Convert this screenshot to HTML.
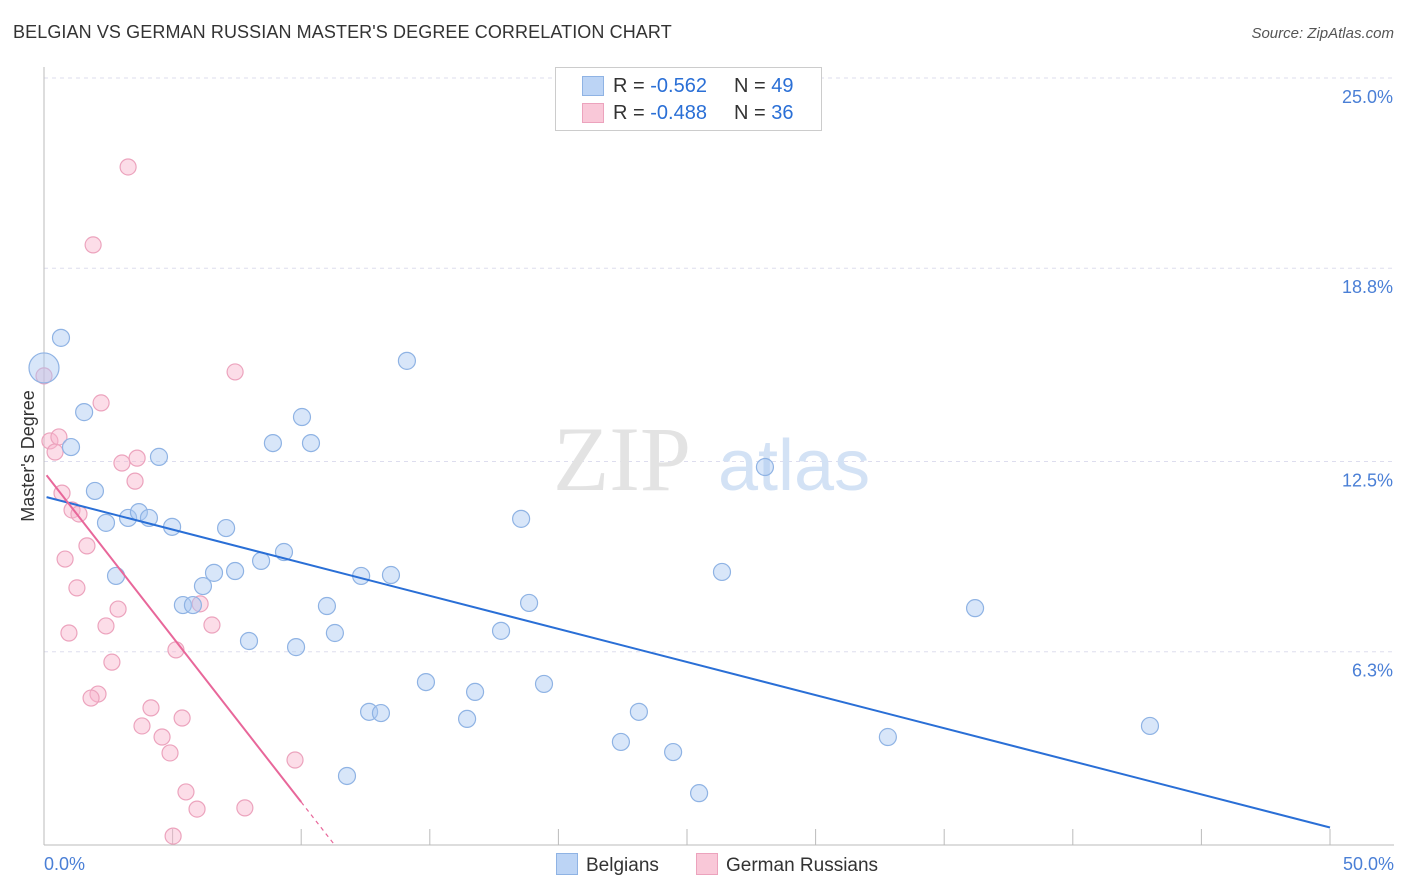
<!DOCTYPE html>
<html><head><meta charset="utf-8">
<style>
body{margin:0;background:#fff;font-family:"Liberation Sans",sans-serif;}
#wrap{position:relative;width:1406px;height:892px;overflow:hidden;}
.t{position:absolute;white-space:nowrap;}
</style></head>
<body>
<div id="wrap">
<div class="t" style="left:13px;top:22px;font-size:18px;color:#333;letter-spacing:0.1px">BELGIAN VS GERMAN RUSSIAN MASTER'S DEGREE CORRELATION CHART</div>
<div class="t" style="right:12px;top:25px;font-size:15px;color:#555;font-style:italic">Source: ZipAtlas.com</div>
<svg id="chart" width="1406" height="892" style="position:absolute;left:0;top:0"></svg>
</div>
<script>
const yTicks=[25.0,18.8,12.5,6.3];
const yTickLabels=["25.0%","18.8%","12.5%","6.3%"];
const xTickLabels=["0.0%","50.0%"];
const belgX=[0.0,0.66,1.56,1.05,1.98,2.41,3.27,3.69,4.08,4.47,4.98,2.80,5.40,5.79,6.18,6.61,7.08,7.43,7.97,8.44,8.90,9.33,9.80,10.03,10.38,11.00,11.31,11.78,12.33,12.64,13.10,13.49,14.11,14.85,16.45,16.76,17.77,18.55,18.86,19.44,22.43,23.13,24.46,25.47,26.36,28.03,32.81,36.20,43.00];
const belgY=[15.55,16.53,14.11,12.97,11.54,10.50,10.66,10.85,10.66,12.65,10.37,8.77,7.82,7.82,8.44,8.87,10.33,8.93,6.65,9.26,13.10,9.55,6.45,13.95,13.10,7.79,6.91,2.25,8.77,4.34,4.30,8.80,15.78,5.31,4.11,4.99,6.98,10.63,7.89,5.25,3.36,4.34,3.03,1.69,8.90,12.32,3.52,7.72,3.88];
const gerX=[0.0,0.23,0.43,0.58,0.70,1.09,1.36,0.82,1.28,1.67,0.97,2.41,2.88,2.64,2.10,1.83,2.22,1.91,3.27,3.03,3.62,3.54,3.81,4.16,4.59,4.90,5.13,5.37,6.07,6.53,5.52,5.95,5.02,7.43,7.81,9.76];
const gerY=[15.29,13.17,12.81,13.30,11.47,10.92,10.79,9.32,8.38,9.75,6.91,7.14,7.69,5.96,4.92,4.79,14.41,19.56,22.10,12.45,12.61,11.86,3.88,4.47,3.52,3.00,6.36,4.14,7.86,7.17,1.73,1.17,0.29,15.42,1.21,2.77];
const belgLine=[11.36,-0.2158];
const gerLine=[12.16,-1.076];
const x=v=>44+v*25.72;
const y=v=>845-v*30.68;
const svg=document.getElementById('chart');
const NS='http://www.w3.org/2000/svg';
function mk(tag,attrs,parent){const e=document.createElementNS(NS,tag);for(const k in attrs)e.setAttribute(k,attrs[k]);(parent||svg).appendChild(e);return e;}
yTicks.forEach((v,i)=>{
 const g=mk('line',{x1:44,x2:1394,y1:y(v),y2:y(v),stroke:'#dde',"stroke-dasharray":'4,4'});
 
 
 const t=mk('text',{x:1393,y:y(v)+25,"text-anchor":'end',"font-size":18,fill:'#4a7fd6',"font-family":'Liberation Sans'});
 t.textContent=yTickLabels[i];
 
 
});
const ax=mk('line',{x1:44,x2:1394,y1:845,y2:845,stroke:'#bbb'});


const ay=mk('line',{x1:44,x2:44,y1:67,y2:845,stroke:'#bbb'});


for(let i=1;i<=10;i++){
 const tk=mk('line',{x1:x(i*5),x2:x(i*5),y1:829,y2:845,stroke:'#bbb'});
 
 
}
[[0,'start',44],[50,'end',1394]].forEach((a,i)=>{
 const t=mk('text',{x:a[2],y:870,"text-anchor":a[1],"font-size":18,fill:'#4a7fd6',"font-family":'Liberation Sans'});
 t.textContent=xTickLabels[i];
 
 
});
const wm=mk('text',{x:553,y:490,"font-size":92,fill:'#e3e3e3',"font-family":'Liberation Serif'});wm.textContent='ZIP';


const wm2=mk('text',{x:718,y:490,"font-size":72,fill:'#d3e2f5',"font-family":'Liberation Sans'});wm2.textContent='atlas';


const yt=mk('text',{x:34,y:456,"font-size":18,fill:'#333',"text-anchor":'middle',transform:'rotate(-90 34 456)',"font-family":'Liberation Sans'});yt.textContent="Master's Degree";


gerX.forEach((v,i)=>{
 const c=mk('circle',{cx:x(v),cy:y(gerY[i]),r:8,fill:'rgba(248,180,204,0.45)',stroke:'#eca3bd',"stroke-width":1.2});
 
 
});
belgX.forEach((v,i)=>{
 const c=mk('circle',{cx:x(v),cy:y(belgY[i]),r:i===0?15:8.5,fill:'rgba(168,200,242,0.45)',stroke:'#8fb3e4',"stroke-width":1.2});
 
 
});
const bl=mk('line',{x1:x(0.1),y1:y(belgLine[0]+belgLine[1]*0.1),x2:x(50),y2:y(belgLine[0]+belgLine[1]*50),stroke:'#2a6fd6',"stroke-width":2});


const gl=mk('line',{x1:x(0.1),y1:y(gerLine[0]+gerLine[1]*0.1),x2:x(10),y2:y(gerLine[0]+gerLine[1]*10),stroke:'#e8679a',"stroke-width":2});


const x0=-gerLine[0]/gerLine[1];
const gd=mk('line',{x1:x(10),y1:y(gerLine[0]+gerLine[1]*10),x2:x(x0),y2:y(0),stroke:'#e8679a',"stroke-width":1.2,"stroke-dasharray":'4,4'});


</script>
<div class="t" style="left:555px;top:67px;width:265px;height:62px;border:1px solid #ccc;background:#fff;font-size:20px;color:#333">
 <div style="position:absolute;left:26px;top:8px;width:20px;height:18px;background:#bcd4f5;border:1px solid #8fb3e4"></div>
 <div style="position:absolute;left:57px;top:7px">R = <span style="color:#2a6fd6">-0.562</span></div>
 <div style="position:absolute;left:178px;top:7px">N = <span style="color:#2a6fd6">49</span></div>
 <div style="position:absolute;left:26px;top:35px;width:20px;height:18px;background:#f9c8d8;border:1px solid #eca3bd"></div>
 <div style="position:absolute;left:57px;top:34px">R = <span style="color:#2a6fd6">-0.488</span></div>
 <div style="position:absolute;left:178px;top:34px">N = <span style="color:#2a6fd6">36</span></div>
</div>
<div class="t" style="left:556px;top:853px;font-size:19px;color:#333">
 <span style="display:inline-block;width:20px;height:20px;background:#bcd4f5;border:1px solid #8fb3e4;vertical-align:-4px;margin-right:8px"></span>Belgians</div>
<div class="t" style="left:696px;top:853px;font-size:19px;color:#333">
 <span style="display:inline-block;width:20px;height:20px;background:#f9c8d8;border:1px solid #eca3bd;vertical-align:-4px;margin-right:8px"></span>German Russians</div>
</body></html>
